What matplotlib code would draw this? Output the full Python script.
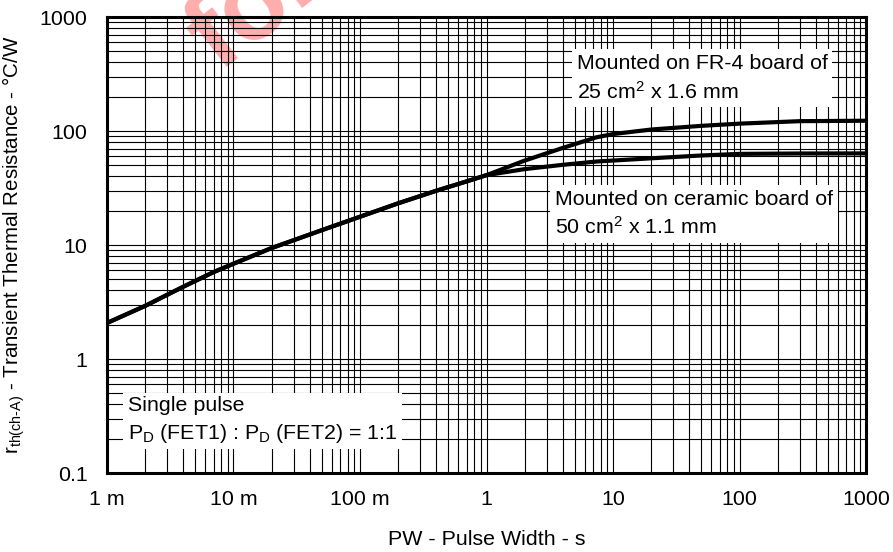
import matplotlib
matplotlib.use("Agg")
import matplotlib.pyplot as plt
import numpy as np

plt.rcParams["font.family"] = ["Liberation Sans", "DejaVu Sans"]
plt.rcParams["mathtext.fontset"] = "custom"
plt.rcParams["mathtext.rm"] = "Liberation Sans"
plt.rcParams["mathtext.it"] = "Liberation Sans"
plt.rcParams["mathtext.bf"] = "Liberation Sans:bold"

# pulse width (s) and transient thermal resistance (degC/W)
pw_fr4 = [1e-3, 2e-3, 4e-3, 7e-3, 10e-3, 20e-3, 50e-3, 0.1, 0.2, 0.4, 0.7, 1.0,
          2.0, 4.0, 7.4, 10, 20, 50, 100, 300, 1000]
rth_fr4 = [2.07, 2.92, 4.3, 5.8, 6.85, 9.4, 13.5, 17.7, 23.2, 29.9, 36.2, 41,
           55, 71, 88, 94, 103, 111, 116, 122, 123]
pw_ceramic = [1e-3, 2e-3, 4e-3, 7e-3, 10e-3, 20e-3, 50e-3, 0.1, 0.2, 0.4, 0.7, 1.0,
              2.0, 4.0, 7.4, 20, 50, 100, 300, 1000]
rth_ceramic = [2.07, 2.92, 4.3, 5.8, 6.85, 9.4, 13.5, 17.7, 23.2, 29.9, 36.2, 41,
               46.3, 50.5, 54, 57.6, 61, 63, 63.5, 63.6]

x_ticks = [1e-3, 1e-2, 1e-1, 1, 10, 100, 1000]
x_labels = ["1 m", "10 m", "100 m", "1", "10", "100", "1000"]
y_ticks = [0.1, 1, 10, 100, 1000]
y_labels = ["0.1", "1", "10", "100", "1000"]

fs = 15.4

fig = plt.figure(figsize=(8.93, 5.52), dpi=100)
ax = fig.add_axes([0.1198, 0.1431, 0.8500, 0.8261])
ax.set_facecolor("none")

# watermark, partly cut off by the top edge
fig.text(0.245, 0.87, "for", rotation=38, rotation_mode="anchor",
         ha="left", va="baseline", fontsize=76, fontweight="bold",
         color=(1.0, 0.0, 0.0, 0.32), zorder=-1)

ax.plot(pw_fr4, rth_fr4, color="black", lw=3, solid_capstyle="butt", zorder=3)
ax.plot(pw_ceramic, rth_ceramic, color="black", lw=3, solid_capstyle="butt", zorder=3)

ax.set_xscale("log")
ax.set_yscale("log")
ax.set_xlim(1e-3, 1000)
ax.set_ylim(0.1, 1000)
ax.set_xticks(x_ticks)
ax.set_xticklabels(x_labels)
ax.set_yticks(y_ticks)
ax.set_yticklabels(y_labels)
ax.xaxis.set_minor_locator(matplotlib.ticker.LogLocator(base=10, subs=np.arange(2, 10)))
ax.yaxis.set_minor_locator(matplotlib.ticker.LogLocator(base=10, subs=np.arange(2, 10)))
ax.xaxis.set_minor_formatter(matplotlib.ticker.NullFormatter())
ax.yaxis.set_minor_formatter(matplotlib.ticker.NullFormatter())
ax.tick_params(which="both", length=0, labelsize=fs)
ax.tick_params(axis="x", pad=12)
ax.tick_params(axis="y", pad=14)
ax.grid(which="both", color="black", lw=0.8)
ax.set_axisbelow(True)
for sp in ax.spines.values():
    sp.set_linewidth(2.2)
    sp.set_zorder(4)

ax.set_xlabel("PW - Pulse Width - s", fontsize=fs, labelpad=15)
ax.set_ylabel(r"r$_\mathregular{th(ch\text{-}A)}$ - Transient Thermal Resistance - °C/W",
              fontsize=14.8)
ax.yaxis.set_label_coords(-0.105, 0.5)

box = dict(facecolor="white", edgecolor="none", boxstyle="square,pad=0.22")
ax.text(0.619, 0.866, "Mounted on FR-4 board of\n25 cm$^\\mathregular{2}$ x 1.6 mm",
        transform=ax.transAxes, ha="left", va="center", fontsize=fs,
        linespacing=1.42, bbox=box, zorder=5)
ax.text(0.590, 0.568, "Mounted on ceramic board of\n50 cm$^\\mathregular{2}$ x 1.1 mm",
        transform=ax.transAxes, ha="left", va="center", fontsize=fs,
        linespacing=1.42, bbox=box, zorder=5)
ax.text(0.0277, 0.116,
        "Single pulse\nP$_\\mathregular{D}$ (FET1) : P$_\\mathregular{D}$ (FET2) = 1:1",
        transform=ax.transAxes, ha="left", va="center", fontsize=fs,
        linespacing=1.42, bbox=box, zorder=5)

fig.savefig("out.png", dpi=100)
